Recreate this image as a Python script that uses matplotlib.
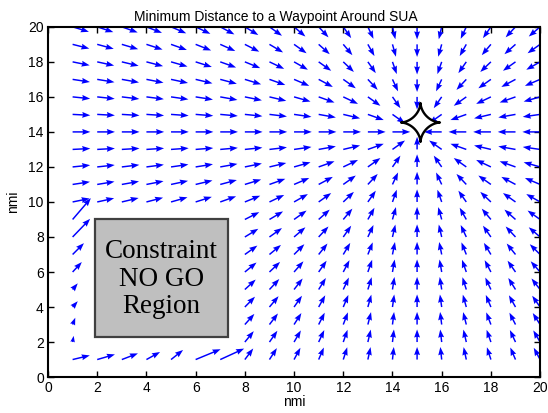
import numpy as np
import matplotlib
matplotlib.use('Agg')
import matplotlib.pyplot as plt
from matplotlib.patches import Rectangle
from matplotlib.path import Path

plt.rcParams['font.family'] = ['Liberation Sans', 'DejaVu Sans']

# grid of arrow tails (nmi)
grid_x = np.arange(1, 21)
grid_y = np.arange(1, 21)

# waypoint the field points at, and where the star is drawn
waypoint = (15, 14)
star_xy = (15.1, 14.55)

# NO GO box (nmi) and the grid cells hidden under it
box_x0, box_x1 = 1.9, 7.3
box_y0, box_y1 = 2.3, 9.0
hidden_x = (2, 7)
hidden_y = (2, 9)

# arrows in the shadow of the box (1 = normal arrow)
col1_y = [1, 2, 3, 4, 5, 6, 7, 8, 9]
col1_u = [0.97, 0.06, 0.15, 0.29, 0.29, 0.52, 0.64, 0.99, 1.03]
col1_v = [0.33, 0.49, 0.54, 0.46, 0.49, 0.79, 0.90, 1.44, 1.69]
row1_x = [2, 3, 4, 5, 6, 7]
row1_u = [1.00, 0.91, 0.77, 0.68, 1.41, 1.35]
row1_v = [0.41, 0.49, 0.60, 0.76, 0.82, 0.87]

X, Y, U, V = [], [], [], []
for y in grid_y:
    for x in grid_x:
        if hidden_x[0] <= x <= hidden_x[1] and hidden_y[0] <= y <= hidden_y[1]:
            continue
        if x == 1 and y in col1_y:
            i = col1_y.index(y)
            u, v = col1_u[i], col1_v[i]
        elif y == 1 and x in row1_x:
            i = row1_x.index(x)
            u, v = row1_u[i], row1_v[i]
        else:
            # straight at the waypoint
            dx, dy = waypoint[0] - x, waypoint[1] - y
            d = np.hypot(dx, dy)
            if d == 0:
                continue
            u, v = dx / d, dy / d
        X.append(x); Y.append(y); U.append(u); V.append(v)

fig = plt.figure(figsize=(5.48, 4.13), dpi=100)
ax = fig.add_axes([0.0876, 0.087, 0.898, 0.848])

ax.quiver(X, Y, U, V, angles='xy', scale_units='xy', scale=1 / 0.72,
          color='#0000ff', width=0.003, headwidth=4, headlength=5.5,
          headaxislength=5, zorder=2)

ax.add_patch(Rectangle((box_x0, box_y0), box_x1 - box_x0, box_y1 - box_y0,
                       facecolor='#bfbfbf', edgecolor='#404040', linewidth=1.6,
                       zorder=3))
ax.text((box_x0 + box_x1) / 2, (box_y0 + box_y1) / 2 - 0.05,
        'Constraint\nNO GO\nRegion', ha='center', va='center',
        family=['Liberation Serif', 'DejaVu Serif'], fontsize=19.5,
        linespacing=1.12, zorder=4)

# four point star
t = np.linspace(0, 2 * np.pi, 240)
c, s = np.cos(t), np.sin(t)
star = Path(np.c_[np.sign(c) * np.abs(c) ** 3.3,
                  np.sign(s) * np.abs(s) ** 3.3], closed=True)
ax.plot(star_xy[0], star_xy[1], marker=star, markersize=28,
        markerfacecolor='white', markeredgecolor='black', markeredgewidth=1.7,
        zorder=5)

ax.set_xlim(0, 20)
ax.set_ylim(0, 20)
ax.set_xticks(np.arange(0, 21, 2))
ax.set_yticks(np.arange(0, 21, 2))
ax.tick_params(direction='in', top=True, right=True, length=4, width=1,
               labelsize=10, pad=3)
for sp in ax.spines.values():
    sp.set_linewidth(1.5)

ax.set_title('Minimum Distance to a Waypoint Around SUA', fontsize=10, pad=4,
             x=0.463)
ax.set_xlabel('nmi', fontsize=10, labelpad=0)
ax.set_ylabel('nmi', fontsize=10, labelpad=6)

fig.savefig('out.png', dpi=100)
